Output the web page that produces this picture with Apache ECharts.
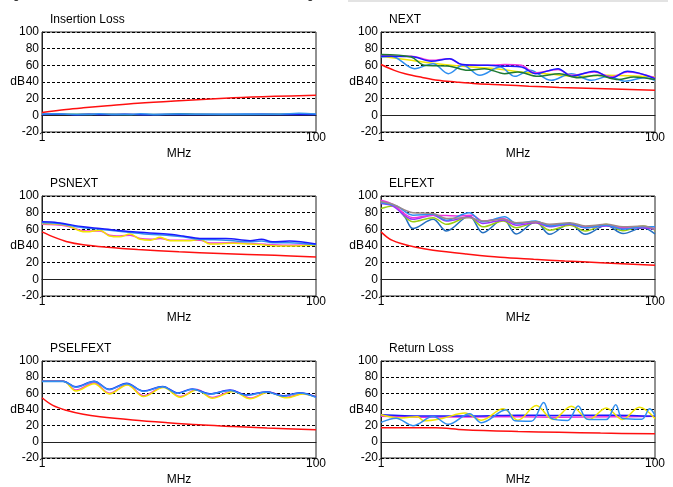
<!DOCTYPE html>
<html>
<head>
<meta charset="utf-8">
<title>Cable test report</title>
<script src="https://cdn.jsdelivr.net/npm/echarts@6/dist/echarts.min.js"></script>
<style>
html, body { margin: 0; padding: 0; background: #fff; }
#main { width: 673px; height: 487px; }
</style>
</head>
<body>
<div id="main"></div>
<script>
// ---- data: [MHz, dB] ----
// Insertion Loss
const ilLimit = [[1,3.5],[1.5,7],[2,9],[3,11.5],[5,14.5],[10,17.5],[25,21],[50,22.8],[100,24]];
const ilBlue = [[1,1.0],[1.3,1.5],[1.7,0.8],[2.2,1.3],[3,0.9],[4,1.3],[6,0.8],[10,1.1],[20,0.9],[40,1.2],[70,1.0],[100,1.1]];
const ilCyan = [[1,1.6],[1.25,2.0],[1.6,1.2],[2.2,1.0],[2.6,1.8],[3.2,1.1],[4.5,1.0],[5.2,1.9],[6.5,1.1],[10,1.5],[15,1.2],[30,1.6],[55,1.3],[75,2.4],[100,1.6]];
const ilGreen = [[1,1.3],[3,1.2],[7,1.0],[10,1.9],[14,1.3],[30,1.1],[100,1.4]];

// NEXT
const nextLimit = [[1,61],[1.25,54],[1.5,50],[2,45.5],[2.6,42],[3.5,40],[5,38],[8,36.5],[12,35],[20,33.5],[50,31.5],[100,30]];
const nextMagenta = [[1,72],[1.3,71],[1.66,71],[2.33,66],[3.17,68],[3.86,61],[6,60],[8,61],[10.6,60],[13.2,51],[19.6,55],[24.5,48],[36,52],[48,46],[63,52],[100,45]];
const nextBlue = [[1,71],[1.66,70.5],[2.33,65],[3.17,68],[3.9,61],[6,60],[8,59],[10.6,58],[13.5,50],[19.6,56],[24.5,47],[36,53],[48,45],[63,53],[100,44]];
const nextGreen = [[1,73],[1.66,70],[2.08,60],[3.17,59],[4.3,54],[5.7,56],[8,50],[10,52],[14,46.8],[20,50],[27.5,45],[38,48],[54,43],[70,46],[100,43]];
const nextYellow = [[1,71],[1.66,66],[2.3,62.8],[3.9,59],[6.8,56],[11.8,51],[16,50],[27.5,46.8],[45,48],[100,46]];
const nextCyan = [[1,70],[1.19,71],[1.76,56],[2.4,62],[3.1,50],[3.96,60],[5.27,48],[7.4,58],[9.5,46.8],[12.2,54],[17.5,42],[24.5,50],[34.3,42],[45.6,46.8],[60,41],[84,45],[100,42]];

// PSNEXT
const psnextLimit = [[1,57],[1.25,50],[1.5,45.5],[2,41.5],[3,38.5],[5,35.8],[10,33],[20,31],[50,28.8],[100,26.8]];
const psnextBlue = [[1,69],[1.3,68],[2,63],[2.65,61],[4.6,57],[8.1,54.4],[10.7,52],[14.2,49],[22,49],[33,46.4],[40,48],[48,45],[64,46],[100,42.4]];
const psnextCyan = [[1,68],[1.3,67],[2,62],[2.65,60],[4.6,56],[6,54],[8.1,53],[10.7,51],[14.2,48],[22,47],[33,45],[40,46],[48,44],[64,44],[100,41.5]];
const psnextYellow = [[1,67],[1.5,65],[1.9,58],[2.12,57],[2.65,59],[3.1,52],[3.7,51],[4.4,54.4],[5.2,48],[6.2,47],[7.3,50.4],[8.6,46.4],[12,46.4],[14.2,48],[16.8,42.4],[24.8,43.2],[33,42.4],[43,41],[57,40],[100,41]];
const psnextMagenta = [[1,66],[1.5,64],[1.9,59],[2.12,58],[2.65,58],[3.1,53],[3.7,52],[4.4,53],[5.2,49],[6.2,48],[7.3,49],[8.6,47],[12,47],[14.2,47],[16.8,43.5],[24.8,44],[33,43],[43,42],[57,41],[100,41.5]];

// ELFEXT
const elfLimit = [[1,57],[1.1,51],[1.2,47],[1.4,43],[1.8,38.4],[2.4,35],[4.2,30.4],[7.4,26.4],[13,24],[22,22],[40,20],[100,17]];
const elfSteel = [[1,93],[1.22,89],[1.49,75],[1.71,61],[2.4,72],[3.0,58],[4.4,76],[5.55,56],[7.8,72],[9.7,54.4],[13.5,69],[17,54],[23.9,67],[31,54],[44,65],[58.5,55],[81.6,62],[100,54.4]];
const elfGreen = [[1,85],[1.22,88],[1.71,69],[2.4,74],[3.0,66],[4.4,75],[5.55,63],[7.8,70],[9.7,62],[13.5,68],[17,59],[23.9,65],[31,58],[44,66],[58.5,58.4],[81.6,64],[100,59]];
const elfPurple = [[1,91],[1.22,88],[1.71,72],[2.4,77],[3.0,70],[4.4,75],[5.55,67],[7.8,71],[9.7,65],[13.5,68],[17,63],[23.9,66],[31,62],[44,64],[58.5,61],[81.6,62],[100,60]];
const elfMagenta = [[1,95],[1.22,90],[1.71,74],[2.4,77],[3.75,76],[4.6,77],[5.55,70],[7.8,73],[9.7,67],[13.5,69],[17,65],[23.9,67],[31,63],[44,65],[58.5,62],[81.6,63],[100,61]];
const elfGray = [[1,93],[1.22,90],[1.71,80],[2.4,79],[3.0,73],[4.4,74],[5.55,70],[7.8,72],[9.7,68],[13.5,69],[17,66],[23.9,68],[31,64],[44,66],[58.5,63],[81.6,64],[100,60]];
const elfCyan = [[1,92],[1.3,88],[1.71,77],[2.4,78],[3.0,71],[4.4,80],[5.55,69],[8,75],[9.7,67],[13.5,70],[17,64],[23.9,67],[31,62],[44,65],[58.5,60],[81.6,63],[100,63]];

// PSELFEXT
const pselfLimit = [[1,54.5],[1.2,45],[1.5,39],[2,34],[2.65,31],[4.6,27],[8,23.8],[14,21],[25,19],[44,17],[100,14.8]];
const pselfBlue = [[1,75],[1.43,75],[1.77,68],[2.4,75],[3.1,65],[4.15,72.5],[5.5,63],[7.6,68.5],[9.8,60.5],[12.5,65.5],[16.8,59.5],[23.6,64],[31,58],[43.6,62],[57.6,57],[76,60.8],[100,55.6]];
const pselfCyan = [[1,74.5],[1.43,74.5],[1.77,67.5],[2.4,74.5],[3.1,64.5],[4.15,72],[5.5,62.5],[7.6,68],[9.8,60],[12.5,65],[16.8,59],[23.6,63.5],[31,57.5],[43.6,61.5],[57.6,56.5],[76,60.3],[100,55]];
const pselfYellow = [[1,74.8],[1.43,74.8],[1.77,63],[2.4,72],[3.1,59.2],[4.2,70.4],[5.5,56],[7.7,67.2],[10.2,55.2],[13.5,64],[17.5,54],[25,62.4],[33,53.2],[45,61.2],[61,54.4],[80,59.2],[100,55.6]];
const pselfMagenta = [[1,74.8],[1.43,74.8],[1.77,64],[2.4,73],[3.1,60.2],[4.2,71],[5.5,57],[7.7,67.8],[10.2,56.2],[13.5,64.6],[17.5,55],[25,63],[33,54.2],[45,61.6],[61,55.2],[80,59.6],[100,55.8]];

// Return Loss
const rlLimit = [[1,17.5],[2.5,17.5],[4,15],[10,12.8],[20,11.8],[40,10.8],[100,10]];
const rlBlue = [[1,33.6],[2,32],[5,32],[10,33],[20,32.5],[50,33],[100,31.5]];
const rlMagenta = [[1,31.5],[2,30.5],[5,30.8],[10,31],[20,30.5],[50,31],[100,31.5]];
const rlYellow = [[1,33.6],[1.4,29.6],[1.85,31],[2.05,26],[2.8,29],[4.1,35.6],[5.4,26.8],[7.8,40.8],[10,26.8],[13.6,44.8],[18,27.6],[24.5,44],[33,27.6],[44,42],[58,27.6],[77,42.8],[100,28.8]];
const rlCyan = [[1,24],[1.29,29.2],[1.71,20],[2.4,31.2],[3.1,21.6],[4.44,34.8],[5.4,23.6],[8.2,39.6],[9.5,26],[12.5,25.5],[15.4,48.8],[17.5,29],[23,26.5],[27.5,44.4],[32,28],[44,27.5],[51.7,46],[58,29],[80,28],[91.5,40.8],[100,32.8]];

// tick labels
const xTickLabels = [1, 100];
const yTicks = { min: -20, max: 100, step: 20 };

const RED = '#ff1010', BLUE = '#1a1aff', CYAN = '#2f8ff0', YELLOW = '#f2e600',
      MAGENTA = '#ee33dd', DKGREEN = '#1e7a32', LIME = '#99cc11', PURPLE = '#9933ff',
      GRAY = '#9c8a8a', STEEL = '#2470c0', GREEN = '#44aa44';

const panels = [
  { title: 'Insertion Loss', lines: [[ilGreen, GREEN], [ilBlue, BLUE], [ilCyan, CYAN], [ilLimit, RED]] },
  { title: 'NEXT', lines: [[nextYellow, YELLOW], [nextCyan, CYAN], [nextMagenta, MAGENTA], [nextBlue, BLUE], [nextGreen, DKGREEN], [nextLimit, RED]] },
  { title: 'PSNEXT', lines: [[psnextMagenta, MAGENTA], [psnextYellow, YELLOW], [psnextCyan, CYAN], [psnextBlue, BLUE], [psnextLimit, RED]] },
  { title: 'ELFEXT', lines: [[elfSteel, STEEL], [elfGreen, LIME], [elfPurple, PURPLE], [elfMagenta, MAGENTA], [elfCyan, CYAN], [elfGray, GRAY], [elfLimit, RED]] },
  { title: 'PSELFEXT', lines: [[pselfMagenta, MAGENTA], [pselfYellow, YELLOW], [pselfBlue, BLUE], [pselfCyan, CYAN], [pselfLimit, RED]] },
  { title: 'Return Loss', lines: [[rlMagenta, MAGENTA], [rlBlue, BLUE], [rlYellow, YELLOW], [rlCyan, CYAN], [rlLimit, RED]] }
];

const colLeft = [42, 381];
const rowTop = [32, 196, 361];
const plotW = 274, plotH = 100;
const FONT = 'Liberation Sans, Arial, sans-serif';

let grids = [], xAxes = [], yAxes = [], titles = [], series = [];
panels.forEach(function (p, i) {
  const left = colLeft[i % 2], top = rowTop[Math.floor(i / 2)];
  grids.push({ left: left, top: top, width: plotW, height: plotH, show: true,
    borderColor: '#222', borderWidth: 1, backgroundColor: '#fff' });
  titles.push({ text: p.title, left: left + 8, top: top - 18, padding: 0,
    textStyle: { fontSize: 12, fontWeight: 'normal', color: '#000', fontFamily: FONT } });
  xAxes.push({
    gridIndex: i, type: 'log', logBase: 10, min: 1, max: 100,
    name: 'MHz', nameLocation: 'middle', nameGap: 16, nameMoveOverlap: false,
    nameTextStyle: { fontSize: 12, color: '#000', fontFamily: FONT },
    axisLine: { lineStyle: { color: '#222', width: 1 } },
    axisTick: { show: false },
    axisLabel: { fontSize: 12, color: '#000', margin: 0, fontFamily: FONT, hideOverlap: false,
      formatter: function (v) { return xTickLabels.indexOf(Math.round(v)) >= 0 ? String(Math.round(v)) : ''; } },
    splitLine: { show: false }
  });
  yAxes.push({
    gridIndex: i, type: 'value', min: yTicks.min, max: yTicks.max, interval: yTicks.step,
    name: 'dB', nameLocation: 'middle', nameRotate: 0, nameGap: 17, nameMoveOverlap: false,
    nameTextStyle: { fontSize: 12, color: '#000', fontFamily: FONT },
    axisLine: { show: true, lineStyle: { color: '#222', width: 1 } },
    axisTick: { show: false },
    axisLabel: { fontSize: 12, color: '#000', margin: 3, fontFamily: FONT, hideOverlap: false },
    splitLine: { show: true, lineStyle: { color: '#000', width: 1, type: [3, 2] } }
  });
  p.lines.forEach(function (l) {
    series.push({
      type: 'line', xAxisIndex: i, yAxisIndex: i, data: l[0],
      smooth: 0.35, showSymbol: false, silent: true,
      lineStyle: { color: l[1], width: l[1] === RED ? 1.5 : 1.5 }
    });
  });
});

const chart = echarts.init(document.getElementById('main'), null, { renderer: 'canvas' });
chart.setOption({
  animation: false,
  backgroundColor: '#fff',
  title: titles,
  grid: grids,
  xAxis: xAxes,
  yAxis: yAxes,
  series: series,
  graphic: [
    { type: 'rect', shape: { x: 348, y: 0, width: 320, height: 2 }, style: { fill: '#e3e3e3' } },
    { type: 'text', x: 13, y: -11, style: { text: 'g', fontSize: 12, fill: '#000', fontFamily: FONT } },
    { type: 'text', x: 307, y: -11, style: { text: 'g', fontSize: 12, fill: '#000', fontFamily: FONT } }
  ]
});
</script>
</body>
</html>
